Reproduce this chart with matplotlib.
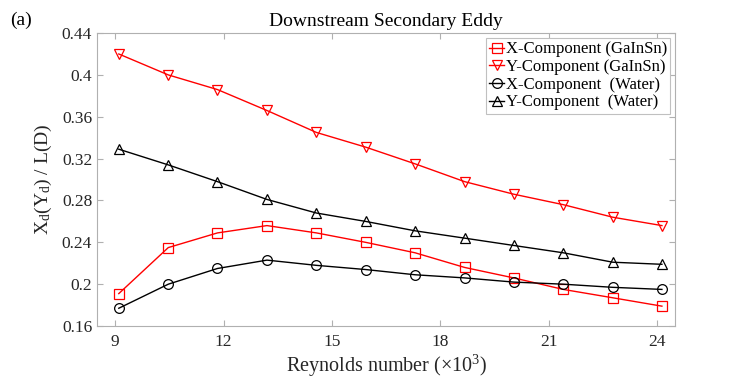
import matplotlib
matplotlib.use("Agg")
import matplotlib.pyplot as plt

reynolds = [9.1, 10.47, 11.83, 13.2, 14.57, 15.93, 17.3, 18.67, 20.03, 21.4, 22.77, 24.13]
x_gainsn = [0.191, 0.235, 0.249, 0.256, 0.249, 0.240, 0.230, 0.216, 0.206, 0.195, 0.187, 0.179]
y_gainsn = [0.420, 0.400, 0.386, 0.366, 0.345, 0.331, 0.315, 0.298, 0.286, 0.276, 0.264, 0.256]
x_water = [0.177, 0.200, 0.215, 0.223, 0.218, 0.214, 0.209, 0.206, 0.202, 0.200, 0.197, 0.195]
y_water = [0.329, 0.314, 0.298, 0.281, 0.268, 0.260, 0.251, 0.244, 0.237, 0.230, 0.221, 0.219]

xticks = [9, 12, 15, 18, 21, 24]
yticks = [0.16, 0.2, 0.24, 0.28, 0.32, 0.36, 0.4, 0.44]
ytick_labels = ["0.16", "0.2", "0.24", "0.28", "0.32", "0.36", "0.4", "0.44"]

plt.rcParams["font.family"] = ["Liberation Serif", "DejaVu Serif"]
plt.rcParams["mathtext.fontset"] = "custom"
plt.rcParams["mathtext.rm"] = "Liberation Serif"
plt.rcParams["mathtext.it"] = "Liberation Serif"

fig = plt.figure(figsize=(7.47, 3.8), dpi=100)
ax = fig.add_axes([0.130, 0.142, 0.774, 0.771])

style = dict(lw=1.0, ms=7, mfc="none", mew=0.9)
ax.plot(reynolds, x_gainsn, "s-", color="red", label="X-Component (GaInSn)", **style)
ax.plot(reynolds, y_gainsn, "v-", color="red", label="Y-Component (GaInSn)", **style)
ax.plot(reynolds, x_water, "o-", color="black", label="X-Component  (Water)", **style)
ax.plot(reynolds, y_water, "^-", color="black", label="Y-Component  (Water)", **style)

ax.set_xlim(8.5, 24.5)
ax.set_ylim(0.16, 0.44)
ax.set_xticks(xticks)
ax.set_yticks(yticks)
ax.set_yticklabels(ytick_labels)
ax.tick_params(direction="in", length=4, colors="#b0b0b0", labelcolor="#262626",
               labelsize=12.5, top=True, right=True)
ax.tick_params(axis="x", pad=6)
for s in ax.spines.values():
    s.set_color("#b0b0b0")
    s.set_linewidth(0.8)

ax.set_xlabel(r"Reynolds number ($\times$10$^3$)", fontsize=14.5, color="#262626", labelpad=2)
ax.set_ylabel(r"X$_\mathrm{d}$(Y$_\mathrm{d}$) / L(D)", fontsize=14, color="#262626", labelpad=6)
ax.set_title("Downstream Secondary Eddy", fontsize=14, pad=5)
fig.text(0.014, 0.935, "(a)", fontsize=14)

leg = ax.legend(loc="upper right", fontsize=12, handlelength=0.9, handletextpad=0.1,
                borderpad=0.2, labelspacing=0.1, borderaxespad=0.3, fancybox=False,
                framealpha=1)
leg.get_frame().set_edgecolor("#c0c0c0")
leg.get_frame().set_linewidth(0.8)

fig.savefig("out.png", dpi=100)
